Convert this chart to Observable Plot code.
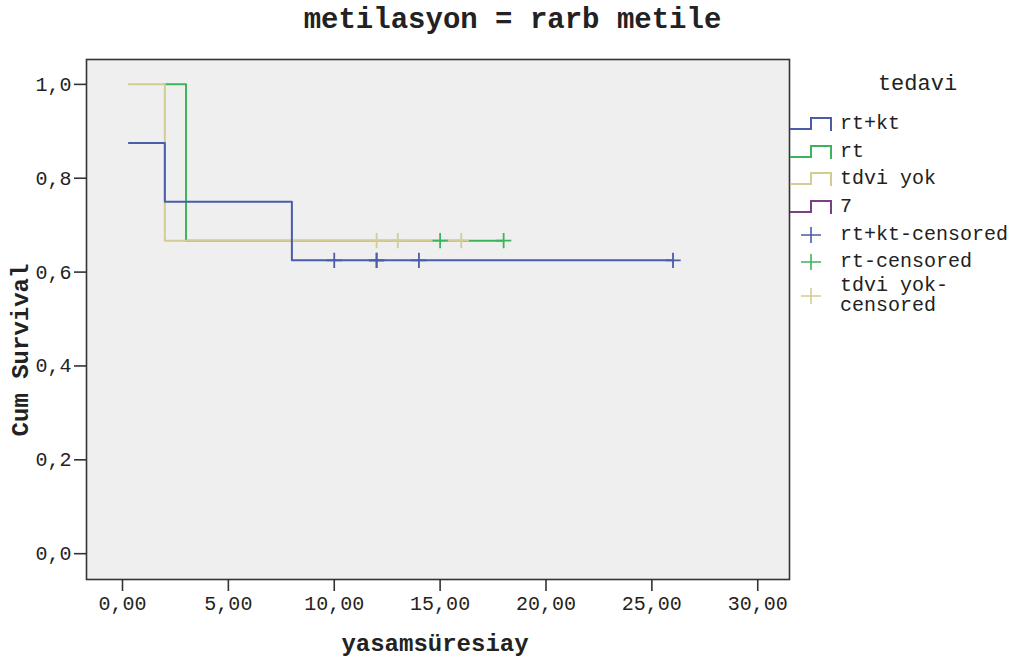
<!DOCTYPE html>
<html><head><meta charset="utf-8">
<script src="https://cdn.jsdelivr.net/npm/d3@7"></script>
<script src="https://cdn.jsdelivr.net/npm/@observablehq/plot@0.6"></script>
<style>
body{margin:0;background:#fff;font-family:"Liberation Mono","DejaVu Sans Mono",monospace;color:#222;}
#wrap{position:relative;width:1025px;height:659px;overflow:hidden;}
#chart svg{position:absolute;left:0;top:0;}
#title{position:absolute;left:0;width:1025px;top:6px;text-align:center;font-weight:bold;font-size:29px;line-height:29px;white-space:nowrap;}
#xtitle{position:absolute;left:435px;top:645px;transform:translate(-50%,-50%);font-weight:bold;font-size:24px;line-height:24px;white-space:nowrap;}
#ytitle{position:absolute;left:22px;top:350px;transform:translate(-50%,-50%) rotate(-90deg);font-weight:bold;font-size:24px;line-height:24px;white-space:nowrap;}
#legend{position:absolute;left:790px;top:72px;width:235px;}
#legend .lt{width:235px;text-align:center;font-size:22px;line-height:26px;padding-left:20px;box-sizing:border-box;margin-bottom:12px;}
#legend .item{display:flex;align-items:center;min-height:27.7px;font-size:20px;line-height:20px;}
#legend .icon{width:50px;flex:0 0 50px;height:20px;}
#legend .txt{width:180px;}
</style></head>
<body>
<div id="wrap">
  <div id="chart"></div>
  <div id="title"></div>
  <div id="xtitle"></div>
  <div id="ytitle"></div>
  <div id="legend"></div>
</div>
<script>
// ---- data ----
const chartTitle = "metilasyon = rarb metile";
const xLabel = "yasamsüresiay";
const yLabel = "Cum Survival";
const legendTitle = "tedavi";
const groups = ["rt+kt", "rt", "tdvi yok", "7"];
const groupColors = ["#4c5ca9", "#3fb35c", "#d3cd93", "#7a3f86"];
const censoredLabels = ["rt+kt-censored", "rt-censored", "tdvi yok-censored"];

// step curves (time, cumulative survival)
const rtktTime = [0.3, 2, 8, 26];
const rtktSurv = [0.875, 0.75, 0.625, 0.625];
const rtTime = [2, 3, 18];
const rtSurv = [1.0, 0.667, 0.667];
const yokTime = [0.3, 2, 16];
const yokSurv = [1.0, 0.667, 0.667];

// censored observations
const rtktCensTime = [10, 12, 12, 14, 26];
const rtktCensSurv = [0.625, 0.625, 0.625, 0.625, 0.625];
const rtCensTime = [15, 18];
const rtCensSurv = [0.667, 0.667];
const yokCensTime = [12, 13, 16];
const yokCensSurv = [0.667, 0.667, 0.667];

const xTicks = [0, 5, 10, 15, 20, 25, 30];
const yTicks = [0, 0.2, 0.4, 0.6, 0.8, 1.0];

// ---- build tables ----
const toRows = (g, ts, ss) => ts.map((t, i) => ({group: g, time: t, surv: ss[i]}));
const curves = [
  ...toRows("rt", rtTime, rtSurv),
  ...toRows("tdvi yok", yokTime, yokSurv),
  ...toRows("rt+kt", rtktTime, rtktSurv)
];
const cens = [
  ...toRows("rt", rtCensTime, rtCensSurv),
  ...toRows("tdvi yok", yokCensTime, yokCensSurv),
  ...toRows("rt+kt", rtktCensTime, rtktCensSurv)
];
const colorOf = g => groupColors[groups.indexOf(g)];
const comma = (v, d) => v.toFixed(d).replace(".", ",");

const plot = Plot.plot({
  width: 1025,
  height: 659,
  marginLeft: 86,
  marginRight: 236,
  marginTop: 59,
  marginBottom: 80,
  style: {fontFamily: "Liberation Mono, monospace", fontSize: "20px", color: "#222", background: "transparent"},
  x: {domain: [-1.7, 31.5]},
  y: {domain: [-0.055, 1.053]},
  marks: [
    Plot.frame({fill: "#efefef", stroke: "none"}),
    Plot.line(curves, {x: "time", y: "surv", z: "group", stroke: d => colorOf(d.group), curve: "step-after", strokeWidth: 2}),
    Plot.dot(cens, {x: "time", y: "surv", symbol: "plus", r: 5, stroke: d => colorOf(d.group), strokeWidth: 1.8}),
    Plot.frame({stroke: "#333", strokeWidth: 1.6}),
    Plot.axisX({ticks: xTicks, tickFormat: d => comma(d, 2), tickSize: 12, tickPadding: 4, fontSize: 20, label: null, stroke: "#333", strokeWidth: 1.6}),
    Plot.axisY({ticks: yTicks, tickFormat: d => comma(d, 1), tickSize: 12, tickPadding: 3, fontSize: 20, label: null, stroke: "#333", strokeWidth: 1.6})
  ]
});
document.getElementById("chart").appendChild(plot);
document.getElementById("title").textContent = chartTitle;
document.getElementById("xtitle").textContent = xLabel;
document.getElementById("ytitle").textContent = yLabel;

// ---- legend ----
const lg = document.getElementById("legend");
const lt = document.createElement("div");
lt.className = "lt"; lt.textContent = legendTitle; lg.appendChild(lt);
groups.forEach((g, i) => {
  const it = document.createElement("div"); it.className = "item";
  it.innerHTML = `<svg class="icon" width="50" height="20"><path d="M0,15H21V4H41V17" fill="none" stroke="${groupColors[i]}" stroke-width="2"/></svg>`;
  const tx = document.createElement("span"); tx.className = "txt"; tx.textContent = g; it.appendChild(tx);
  lg.appendChild(it);
});
censoredLabels.forEach((lab, i) => {
  const it = document.createElement("div"); it.className = "item";
  it.innerHTML = `<svg class="icon" width="50" height="20"><path d="M11,10H31M21,2V18" fill="none" stroke="${groupColors[i]}" stroke-width="1.6"/></svg>`;
  const tx = document.createElement("span"); tx.className = "txt"; tx.textContent = lab; it.appendChild(tx);
  lg.appendChild(it);
});
</script>
</body></html>
